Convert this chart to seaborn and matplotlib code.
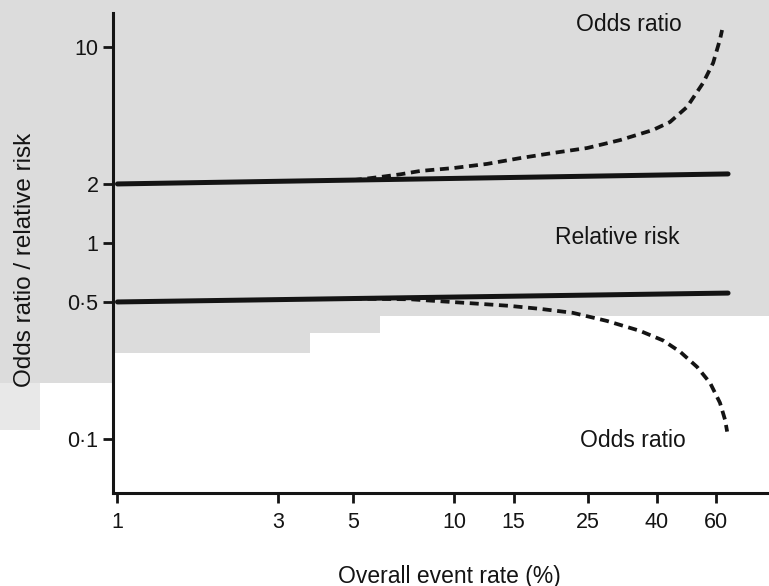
import numpy as np
import pandas as pd
import matplotlib
matplotlib.use("Agg")
import matplotlib.pyplot as plt
from matplotlib.patches import Rectangle
import seaborn as sns

# ---- data ----
rr_x = [1, 65]
rr_high = [2.0, 2.25]
rr_low = [0.5, 0.555]

or_high_x = [5.0, 6.15, 6.92, 7.93, 9.93, 12.5, 15.7, 19.7, 24.8, 31.1, 38.9, 43.7, 49.1, 54.8, 58.7, 61.5, 62.4]
or_high_y = [2.09, 2.18, 2.24, 2.33, 2.41, 2.53, 2.71, 2.88, 3.05, 3.35, 3.77, 4.14, 4.94, 6.55, 8.29, 10.9, 12.2]

or_low_x = [5.0, 7.4, 10.9, 14.5, 18.0, 22.5, 28.4, 35.6, 41.7, 46.9, 52.6, 57.5, 61.5, 63.7, 64.6]
or_low_y = [0.52, 0.516, 0.494, 0.478, 0.461, 0.440, 0.40, 0.356, 0.318, 0.278, 0.233, 0.193, 0.153, 0.125, 0.109]

x_ticks = [1, 3, 5, 10, 15, 25, 40, 60]
x_tick_labels = ["1", "3", "5", "10", "15", "25", "40", "60"]
y_ticks = [0.1, 0.5, 1, 2, 10]
y_tick_labels = ["0·1", "0·5", "1", "2", "10"]

sns.set_style("ticks")
plt.rcParams["font.family"] = ["Liberation Sans", "DejaVu Sans"]

W, H = 769, 586
fig = plt.figure(figsize=(W / 100, H / 100), dpi=100)
fig.patch.set_facecolor("white")

# scanned grey background areas (on a background axes, pixel coordinates)
bg = fig.add_axes([0, 0, 1, 1], zorder=-10)
bg.set_axis_off()
bg.set_xlim(0, W)
bg.set_ylim(H, 0)
grey = "#dcdcdc"
bg.add_patch(Rectangle((0, 0), W, 316, facecolor=grey, edgecolor="none"))
bg.add_patch(Rectangle((0, 316), 380, 17, facecolor=grey, edgecolor="none"))
bg.add_patch(Rectangle((0, 333), 310, 20, facecolor=grey, edgecolor="none"))
bg.add_patch(Rectangle((0, 353), 113, 30, facecolor=grey, edgecolor="none"))
bg.add_patch(Rectangle((0, 383), 40, 47, facecolor="#e8e8e8", edgecolor="none"))

ax = fig.add_axes([113 / W, 1 - 493 / H, 1 - 113 / W, 480 / H], zorder=1)
ax.set_facecolor("none")

df_hi = pd.DataFrame({"x": rr_x, "y": rr_high})
df_lo = pd.DataFrame({"x": rr_x, "y": rr_low})
df_ohi = pd.DataFrame({"x": or_high_x, "y": or_high_y})
df_olo = pd.DataFrame({"x": or_low_x, "y": or_low_y})

ink = "#141414"
sns.lineplot(data=df_hi, x="x", y="y", ax=ax, color=ink, lw=3.6, sort=False)
sns.lineplot(data=df_lo, x="x", y="y", ax=ax, color=ink, lw=3.6, sort=False)
sns.lineplot(data=df_ohi, x="x", y="y", ax=ax, color=ink, lw=2.7, sort=False,
             linestyle=(0, (2.4, 1.5)))
sns.lineplot(data=df_olo, x="x", y="y", ax=ax, color=ink, lw=2.7, sort=False,
             linestyle=(0, (2.4, 1.5)))

ax.set_xscale("log")
ax.set_yscale("log")
ax.set_xlim(0.97, 86)
ax.set_ylim(0.053, 14.9)
ax.set_xticks(x_ticks)
ax.set_xticklabels(x_tick_labels)
ax.set_yticks(y_ticks)
ax.set_yticklabels(y_tick_labels)
ax.minorticks_off()
ax.set_xlabel("")
ax.set_ylabel("")

for s in ["top", "right"]:
    ax.spines[s].set_visible(False)
for s in ["left", "bottom"]:
    ax.spines[s].set_linewidth(2.2)
    ax.spines[s].set_color(ink)
ax.tick_params(axis="both", width=2.0, length=7, colors=ink, labelsize=15.5)
ax.tick_params(axis="x", pad=7)
ax.tick_params(axis="y", pad=3.5)

ax.text(33, 13.0, "Odds ratio", ha="center", va="center", fontsize=16.5, color=ink)
ax.text(30.5, 1.07, "Relative risk", ha="center", va="center", fontsize=16.5, color=ink)
ax.text(34, 0.098, "Odds ratio", ha="center", va="center", fontsize=16.5, color=ink)

fig.text(449 / W, 1 - 576 / H, "Overall event rate (%)", ha="center", va="center",
         fontsize=16.5, color=ink)
fig.text(25 / W, 1 - 260 / H, "Odds ratio / relative risk", ha="center", va="center",
         rotation=90, fontsize=17.5, color=ink)

fig.savefig("out.png", dpi=100)
